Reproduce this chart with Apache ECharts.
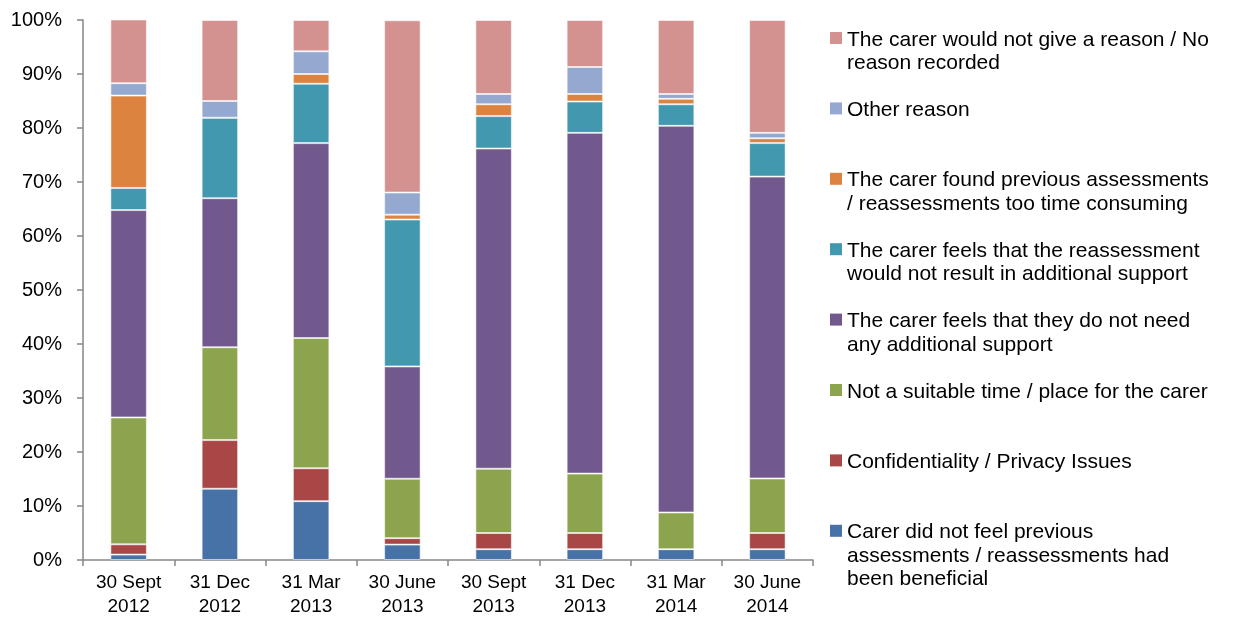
<!DOCTYPE html>
<html>
<head>
<meta charset="utf-8">
<script src="https://cdn.jsdelivr.net/npm/echarts@6/dist/echarts.min.js"></script>
<style>
html,body{margin:0;padding:0;background:#fff;}
#chart{width:1243px;height:625px;}
</style>
</head>
<body>
<div id="chart"></div>
<script>
const categories = ['30 Sept\n2012','31 Dec\n2012','31 Mar\n2013','30 June\n2013','30 Sept\n2013','31 Dec\n2013','31 Mar\n2014','30 June\n2014'];

const seriesNames = [
  'Carer did not feel previous assessments / reassessments had been beneficial',
  'Confidentiality / Privacy Issues',
  'Not a suitable time / place for the carer',
  'The carer feels that they do not need any additional support',
  'The carer feels that the reassessment would not result in additional support',
  'The carer found previous assessments / reassessments too time consuming',
  'Other reason',
  'The carer would not give a reason / No reason recorded'
];
// legend labels as wrapped in the reference
const legendLabels = [
  'Carer did not feel previous\nassessments / reassessments had\nbeen beneficial',
  'Confidentiality / Privacy Issues',
  'Not a suitable time / place for the carer',
  'The carer feels that they do not need\nany additional support',
  'The carer feels that the reassessment\nwould not result in additional support',
  'The carer found previous assessments\n/ reassessments too time consuming',
  'Other reason',
  'The carer would not give a reason / No\nreason recorded'
];

const notBeneficial   = [1.0, 13.2, 10.9, 2.85, 2.0, 2.0, 2.0, 2.0];
const confidentiality = [1.9, 9.0, 6.1, 1.2, 3.0, 3.0, 0, 3.0];
const notSuitable     = [23.5, 17.2, 24.1, 11.0, 11.9, 11.0, 6.8, 10.1];
const noNeed          = [38.4, 27.6, 36.1, 20.8, 59.3, 63.1, 71.6, 55.9];
const noAdditional    = [4.1, 14.9, 11.0, 27.2, 6.0, 5.8, 4.0, 6.2];
const tooTime         = [17.1, 0, 1.8, 0.9, 2.2, 1.4, 1.0, 0.9];
const otherReason     = [2.3, 3.1, 4.2, 4.1, 1.9, 5.0, 0.9, 1.0];
const noReason        = [11.8, 15.0, 5.8, 31.9, 13.7, 8.7, 13.7, 20.9];

const seriesData = [notBeneficial, confidentiality, notSuitable, noNeed, noAdditional, tooTime, otherReason, noReason];
const colors = ['#4672A8','#A84745','#8BA44D','#71598D','#4198AF','#DC843F','#95A9D0','#D39190'];

const FONT = '"Liberation Sans", Arial, sans-serif';

const series = seriesNames.map((n, i) => ({
  name: n,
  type: 'bar',
  stack: 'total',
  barCategoryGap: '60%',
  data: seriesData[i],
  itemStyle: { color: colors[i], borderColor: 'rgba(255,255,255,0.55)', borderWidth: 1 },
  emphasis: { disabled: true }
}));

// custom legend (reverse order, top = last series)
const graphics = [];
for (let k = 0; k < seriesNames.length; k++) {
  const i = seriesNames.length - 1 - k;
  const cy = 38 + 70.4 * k;
  graphics.push({
    type: 'rect', left: 830, top: cy - 6,
    shape: { width: 12, height: 12 },
    style: { fill: colors[i] }
  });
  graphics.push({
    type: 'text', left: 847, top: cy - 10,
    style: { text: legendLabels[i], font: '21px ' + FONT, fill: '#000', lineHeight: 23.5 }
  });
}

const chart = echarts.init(document.getElementById('chart'));
chart.setOption({
  animation: false,
  backgroundColor: '#fff',
  grid: { left: 83, right: 430, top: 20, bottom: 65, containLabel: false },
  xAxis: {
    type: 'category',
    data: categories,
    axisLine: { lineStyle: { color: '#868686', width: 1.5 } },
    axisTick: { show: true, alignWithLabel: false, length: 6, lineStyle: { color: '#868686', width: 1.5 } },
    axisLabel: { color: '#000', fontSize: 19, fontFamily: FONT, lineHeight: 24, margin: 11, interval: 0 }
  },
  yAxis: {
    type: 'value',
    min: 0, max: 100, interval: 10,
    axisLine: { show: true, lineStyle: { color: '#868686', width: 1.5 } },
    axisTick: { show: true, length: 6, lineStyle: { color: '#868686', width: 1.5 } },
    splitLine: { show: false },
    axisLabel: { color: '#000', fontSize: 20, fontFamily: FONT, formatter: '{value}%', margin: 21 }
  },
  series: series,
  graphic: graphics
});
</script>
</body>
</html>
